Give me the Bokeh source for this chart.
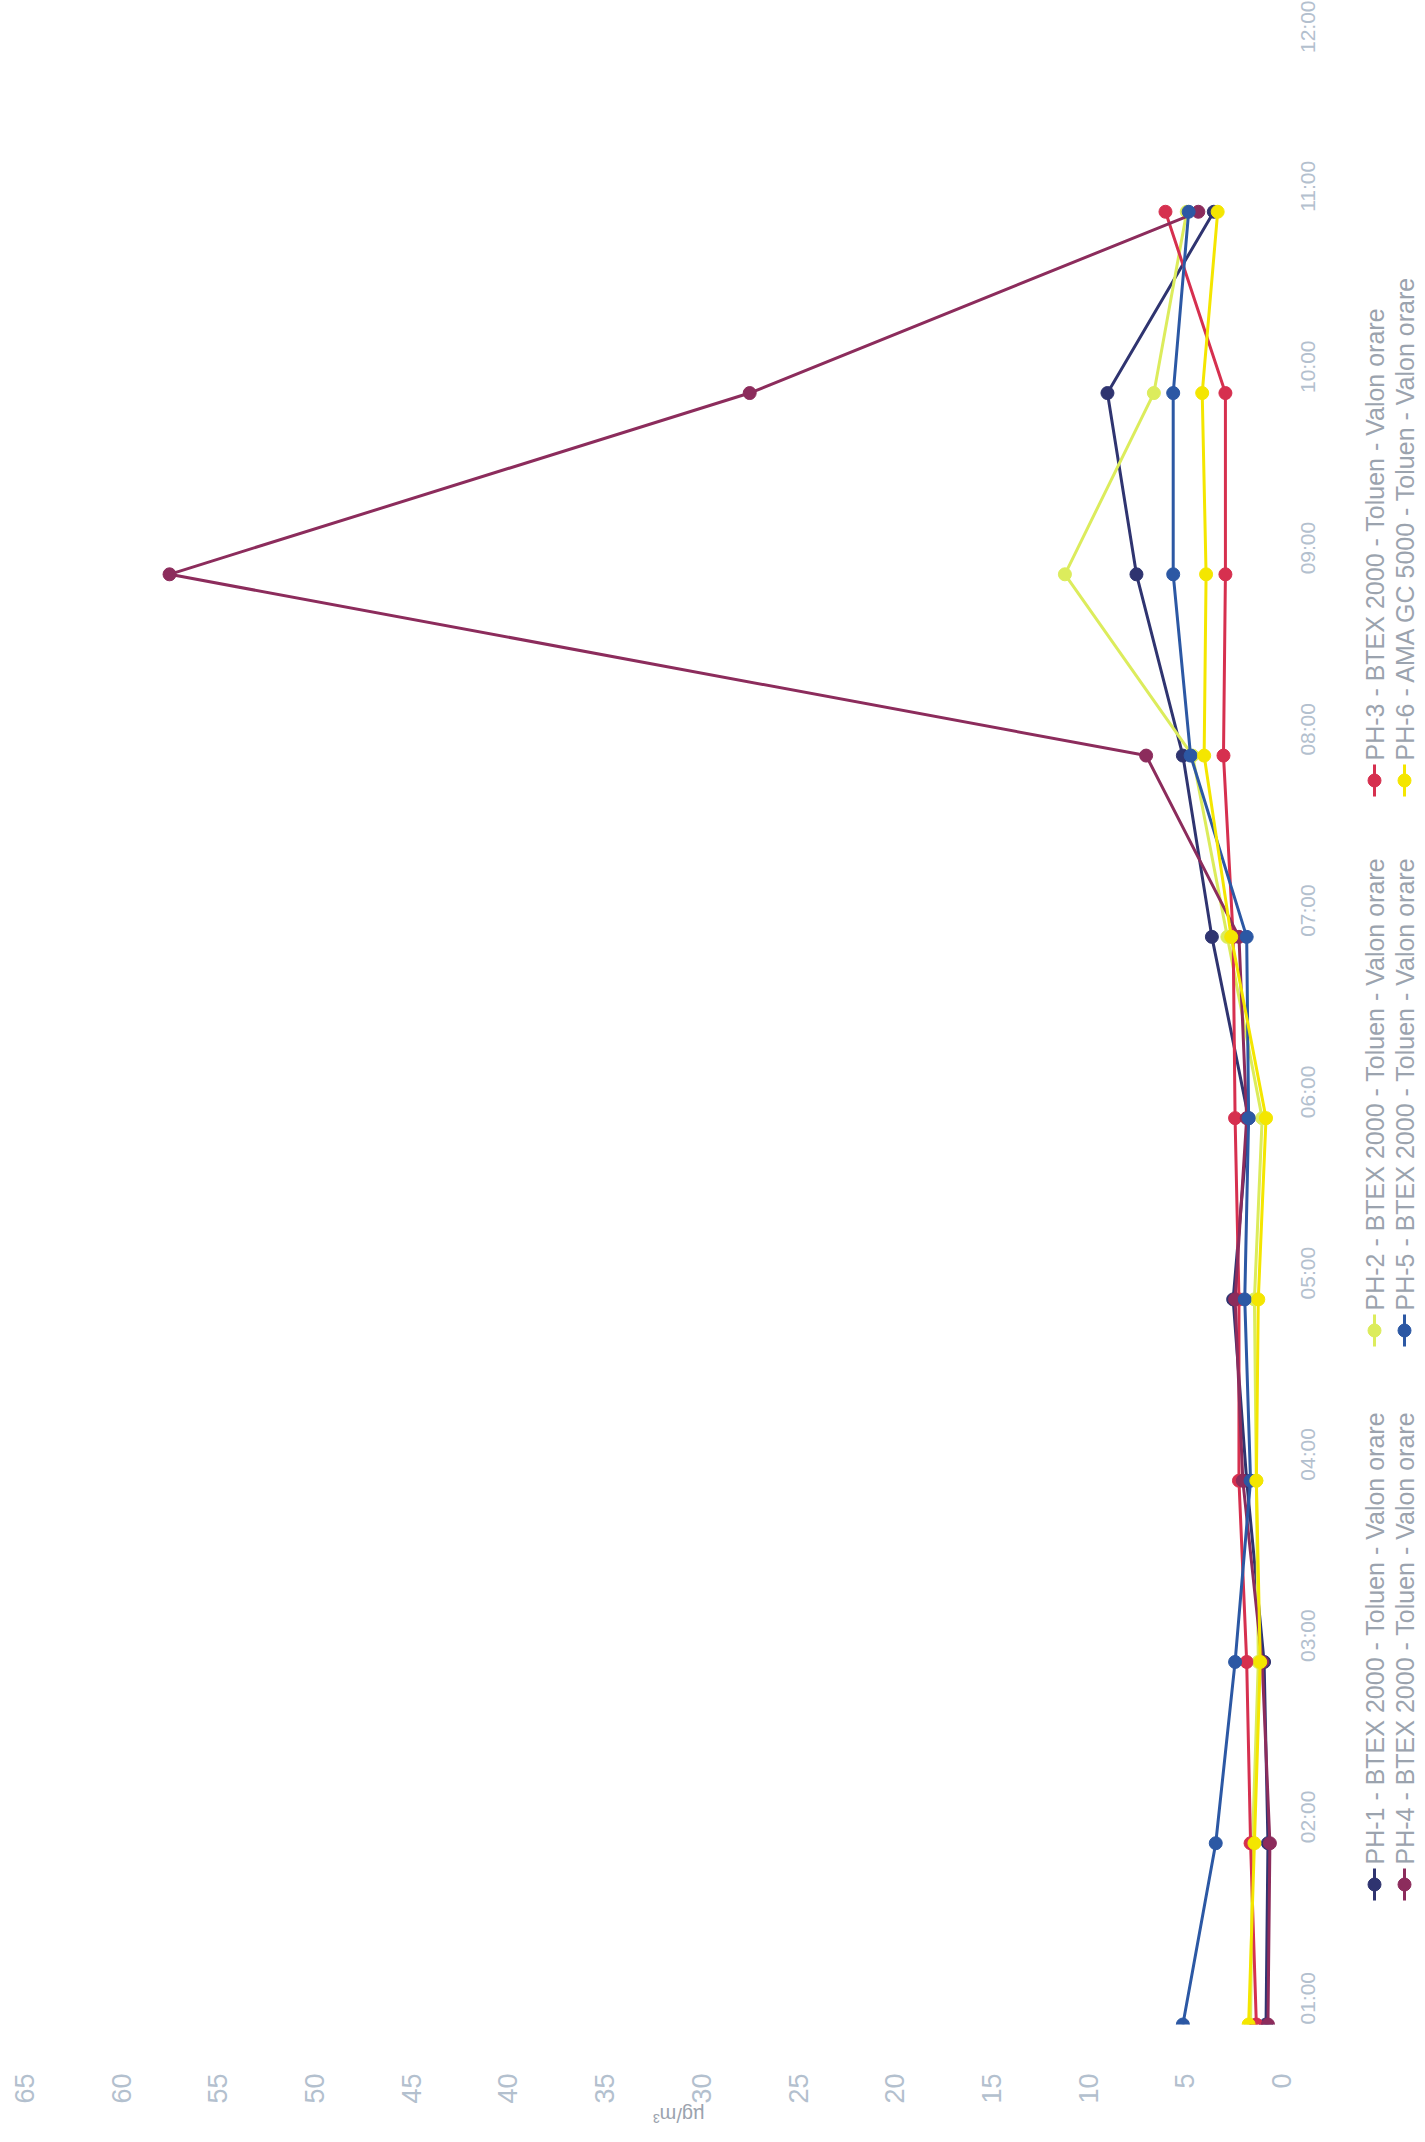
import math
from bokeh.plotting import figure
from bokeh.layouts import row
from bokeh.models import Range1d, FixedTicker
from bokeh.embed import file_html
from bokeh.resources import INLINE
from bokeh.core.properties import value

# ---- data -------------------------------------------------------------
hours = [1, 2, 3, 4, 5, 6, 7, 8, 9, 10, 11]
time_ticks = [1, 2, 3, 4, 5, 6, 7, 8, 9, 10, 11, 12]
time_labels = ["01:00", "02:00", "03:00", "04:00", "05:00", "06:00",
               "07:00", "08:00", "09:00", "10:00", "11:00", "12:00"]
value_ticks = [0, 5, 10, 15, 20, 25, 30, 35, 40, 45, 50, 55, 60, 65]

names = ["PH-1 - BTEX 2000 - Toluen - Valon orare",
         "PH-2 - BTEX 2000 - Toluen - Valon orare",
         "PH-3 - BTEX 2000 - Toluen - Valon orare",
         "PH-4 - BTEX 2000 - Toluen - Valon orare",
         "PH-5 - BTEX 2000 - Toluen - Valon orare",
         "PH-6 - AMA GC 5000 - Toluen - Valon orare"]

ph1 = [0.8, 0.7, 0.9, 1.8, 2.5, 1.7, 3.6, 5.1, 7.5, 9.0, 3.5]
ph2 = [1.6, 1.5, 1.2, 1.3, 1.4, 1.0, 2.8, 4.6, 11.2, 6.6, 4.9]
ph3 = [1.3, 1.6, 1.8, 2.2, 2.2, 2.4, 2.5, 3.0, 2.9, 2.9, 6.0]
ph4 = [0.7, 0.6, 1.0, 2.0, 2.4, 1.8, 2.2, 7.0, 57.5, 27.5, 4.3]
ph5 = [5.1, 3.4, 2.4, 1.6, 1.9, 1.7, 1.8, 4.7, 5.6, 5.6, 4.8]
ph6 = [1.7, 1.4, 1.1, 1.3, 1.2, 0.8, 2.6, 4.0, 3.9, 4.1, 3.3]
series = [ph1, ph2, ph3, ph4, ph5, ph6]

colors = ["#2f3470", "#dcec5c", "#d6304f", "#8c2c5c", "#2c58a4", "#f4e600"]

FONT = "Liberation Sans"
TICK_COLOR = "#b3c0ce"
LEG_COLOR = "#9ba3ae"

# layout constants (pixels)
FR_LEFT, FR_RIGHT = 24, 1281
FR_TOP, FR_BOTTOM = 30, 2024
H = 2140
MAIN_W = 1333
LEG_W = 92

# ---- main chart (rotated view: values horizontal, time vertical) -------
p = figure(width=MAIN_W, height=H,
           x_range=Range1d(65, 0), y_range=Range1d(1, 12),
           y_axis_location="right",
           output_backend="svg", toolbar_location=None,
           min_border_left=FR_LEFT, min_border_right=MAIN_W - FR_RIGHT,
           min_border_top=FR_TOP, min_border_bottom=H - FR_BOTTOM)
p.grid.visible = False
p.outline_line_color = None
p.background_fill_color = "white"
p.border_fill_color = "white"

for ax in (p.xaxis, p.yaxis):
    ax.axis_line_color = None
    ax.major_tick_line_color = None
    ax.minor_tick_line_color = None
    ax.major_label_text_font = FONT
    ax.major_label_text_color = TICK_COLOR

p.xaxis.ticker = FixedTicker(ticks=value_ticks)
p.xaxis.major_label_orientation = math.pi / 2
p.xaxis.major_label_standoff = 43
p.xaxis.major_label_text_font_size = "27px"

# upside-down unit label below the value axis
p.xaxis.axis_label = "µg/m³"
try:
    p.xaxis.axis_label_orientation = math.pi
except Exception:
    pass
p.xaxis.axis_label_standoff = 8
p.xaxis.axis_label_text_font = FONT
p.xaxis.axis_label_text_font_size = "20px"
p.xaxis.axis_label_text_font_style = "normal"
p.xaxis.axis_label_text_color = LEG_COLOR

p.yaxis.ticker = FixedTicker(ticks=time_ticks)
p.yaxis.major_label_overrides = {t: l for t, l in zip(time_ticks, time_labels)}
p.yaxis.major_label_orientation = math.pi / 2
p.yaxis.major_label_standoff = 20
p.yaxis.major_label_text_font_size = "21px"

for vals, col in zip(series, colors):
    p.line(vals, hours, line_color=col, line_width=3)
    p.scatter(vals, hours, size=13, fill_color=col, line_color=col)

# ---- legend panel (rotated legend on the right) ------------------------
# frames of a row share top/bottom, so y runs over the main frame's pixels
leg = figure(width=LEG_W, height=H,
             x_range=Range1d(MAIN_W, MAIN_W + LEG_W),
             y_range=Range1d(-FR_BOTTOM, -FR_TOP),
             x_axis_location=None, y_axis_location=None,
             output_backend="svg", toolbar_location=None,
             min_border_left=0, min_border_right=0,
             min_border_top=FR_TOP, min_border_bottom=H - FR_BOTTOM)
leg.grid.visible = False
leg.outline_line_color = None

col_x = [1374, 1404]
item_y = [1884, 1330, 780]
for i, (name, col) in enumerate(zip(names, colors)):
    cx = col_x[i // 3]
    cy = -item_y[i % 3]
    leg.segment(x0=[cx], y0=[cy - 16], x1=[cx], y1=[cy + 16],
                line_color=col, line_width=3)
    leg.scatter([cx], [cy], size=13, fill_color=col, line_color=col)
    leg.text([cx], [cy + 20], text=[name], angle=math.pi / 2,
             text_align="left", text_baseline="middle",
             text_font=value(FONT), text_font_size="25px",
             text_color=LEG_COLOR)

layout = row(p, leg)
open("out.html", "w").write(file_html(layout, INLINE))
